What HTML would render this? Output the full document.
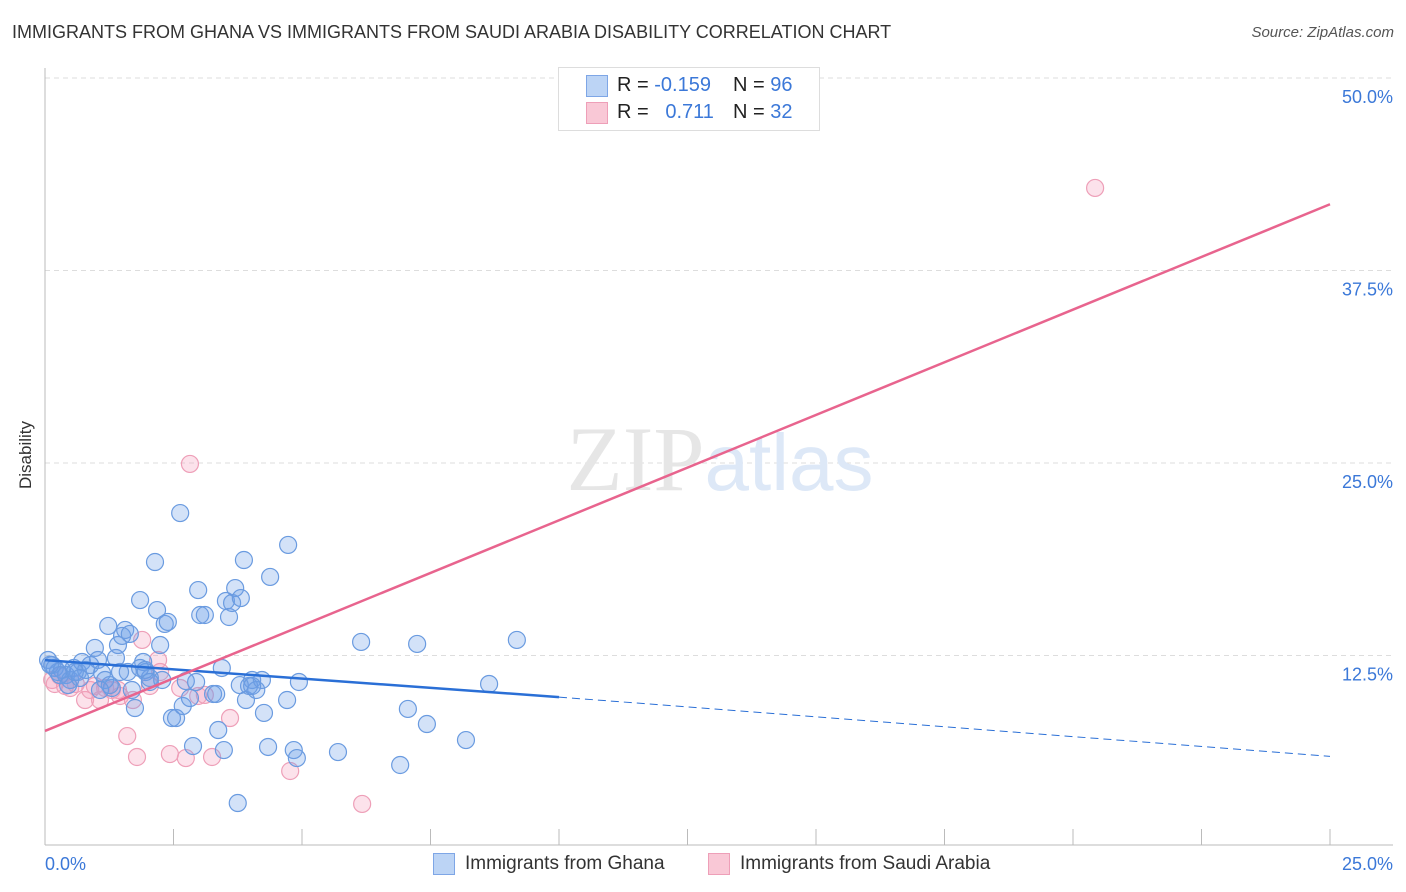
<!DOCTYPE html>
<html><head><meta charset="utf-8"><style>
body{margin:0;background:#fff;font-family:"Liberation Sans",sans-serif;}
#wrap{position:relative;width:1406px;height:892px;overflow:hidden;}
.t{position:absolute;white-space:nowrap;}
</style></head><body>
<div id="wrap">
<div class="t" style="left:12px;top:22px;font-size:18px;color:#333;">IMMIGRANTS FROM GHANA VS IMMIGRANTS FROM SAUDI ARABIA DISABILITY CORRELATION CHART</div>
<div class="t" style="right:12px;top:24px;font-size:15px;color:#555;font-style:italic;">Source: ZipAtlas.com</div>
<div class="t" style="left:-8px;top:445px;font-size:17px;color:#333;transform:rotate(-90deg);">Disability</div>
<svg id="svg" width="1406" height="892" style="position:absolute;left:0;top:0;"></svg>
<div style="position:absolute;left:558px;top:67px;width:260px;height:62px;border:1px solid #ddd;background:#fff;">
<div style="position:absolute;left:27px;top:7px;width:20px;height:20px;background:#bcd4f5;border:1px solid #7ea6e6;"></div>
<div style="position:absolute;left:27px;top:34px;width:20px;height:20px;background:#f9c8d6;border:1px solid #ee9fb8;"></div>
<div class="t" style="left:58px;top:6px;font-size:20px;color:#222;">R = <span style="color:#3b78d8">-0.159</span></div>
<div class="t" style="left:174px;top:6px;font-size:20px;color:#222;">N = <span style="color:#3b78d8">96</span></div>
<div class="t" style="left:58px;top:33px;font-size:20px;color:#222;">R = <span style="color:#3b78d8">&nbsp;&nbsp;0.711</span></div>
<div class="t" style="left:174px;top:33px;font-size:20px;color:#222;">N = <span style="color:#3b78d8">32</span></div>
</div>
<div>
<div style="position:absolute;left:433px;top:853px;width:20px;height:20px;background:#bcd4f5;border:1px solid #7ea6e6;"></div>
<div class="t" style="left:465px;top:853px;font-size:19px;color:#333;">Immigrants from Ghana</div>
<div style="position:absolute;left:708px;top:853px;width:20px;height:20px;background:#f9c8d6;border:1px solid #ee9fb8;"></div>
<div class="t" style="left:740px;top:853px;font-size:19px;color:#333;">Immigrants from Saudi Arabia</div>
</div>
</div>
<script>
const yTicks=[12.5,25,37.5,50];
const yTickLabels=["12.5%","25.0%","37.5%","50.0%"];
const xTickLabels=["0.0%","25.0%"];
const ghanaX=[0.06,0.14,0.19,0.25,0.33,0.41,0.49,0.56,0.64,0.72,0.80,0.88,0.97,1.03,1.11,1.17,1.23,1.30,1.38,1.42,1.50,1.56,1.61,1.65,1.69,1.75,1.85,1.91,1.96,2.04,2.14,2.18,2.24,2.28,2.33,2.47,2.55,2.63,2.68,2.74,2.82,2.88,2.94,2.98,3.02,3.11,3.27,3.33,3.37,3.44,3.48,3.52,3.58,3.64,3.70,3.75,3.81,3.87,3.91,3.97,4.03,4.11,4.22,4.26,4.34,4.38,4.71,4.73,4.84,4.90,4.94,5.70,6.15,6.91,7.06,7.24,7.43,8.19,8.64,9.18,1.85,1.95,2.04,2.39,3.79,4.03,1.46,0.29,0.45,0.58,0.68,1.26,1.07,0.10];
const ghanaY=[12.21,11.88,11.69,11.43,11.56,11.23,10.91,11.69,11.43,12.08,11.56,11.88,12.99,12.21,11.36,10.91,14.42,10.39,12.34,13.18,13.77,14.16,11.43,13.90,10.26,9.09,16.10,12.08,11.43,11.04,18.57,15.45,13.18,10.91,14.55,8.44,8.44,21.75,9.22,10.84,9.74,6.62,10.78,16.75,15.13,15.13,10.0,10.0,7.66,11.69,6.36,16.04,15.0,15.91,16.88,2.92,16.23,18.70,9.61,10.52,10.91,10.26,10.91,8.77,6.56,17.60,9.61,19.68,6.36,5.84,10.78,6.23,13.38,5.39,9.03,13.25,8.05,7.01,10.65,13.51,11.69,11.56,10.78,14.68,10.58,10.52,11.43,11.23,10.58,11.43,11.04,10.58,10.26,11.9];
const saudiX=[0.14,0.19,0.29,0.39,0.49,0.60,0.78,0.88,1.07,1.30,1.42,1.60,1.71,1.79,1.89,2.04,2.20,2.24,2.43,2.63,2.74,2.82,2.98,3.11,3.25,3.60,4.77,6.17,20.43,1.46,1.17,0.97];
const saudiY=[10.91,10.65,11.17,10.52,10.39,10.65,9.61,10.26,9.61,10.26,10.26,7.27,9.61,5.91,13.51,10.52,12.21,11.43,6.10,10.39,5.84,24.94,9.87,9.94,5.91,8.44,5.0,2.86,42.86,9.87,10.39,10.52];
const ghanaTrend=[[0,12.2],[10,9.8],[25,5.95]];
const saudiTrend=[[0,7.6],[25,41.8]];
const X0=45,X1=1330,Y0=848,PXY=15.4;
const sx=v=>X0+(v/25)*(X1-X0);
const sy=v=>Y0-v*PXY;
const svg=document.getElementById('svg');
const NS='http://www.w3.org/2000/svg';
function mk(tag,attrs){const e=document.createElementNS(NS,tag);for(const k in attrs)e.setAttribute(k,attrs[k]);svg.appendChild(e);return e;}
yTicks.forEach((t,i)=>{
 const g=mk('line',{x1:45,x2:1393,y1:sy(t),y2:sy(t),stroke:'#ddd','stroke-dasharray':'5,4'});
 
 
 const tx=mk('text',{x:1393,y:sy(t)+25,'text-anchor':'end','font-size':18,fill:'#3b78d8','font-family':'Liberation Sans'});
 tx.textContent=yTickLabels[i];
 
 
});
const ax=mk('line',{x1:45,x2:1393,y1:845,y2:845,stroke:'#bbb'});


const ay=mk('line',{x1:45,x2:45,y1:68,y2:845,stroke:'#bbb'});


for(let i=1;i<=10;i++){
 const tk=mk('line',{x1:sx(i*2.5),x2:sx(i*2.5),y1:829,y2:845,stroke:'#bbb'});
 
 
}
[[0,'start',45],[1,'end',1393]].forEach(([i,a,x])=>{
 const t=mk('text',{x:x,y:870,'text-anchor':a,'font-size':18,fill:'#3b78d8','font-family':'Liberation Sans'});
 t.textContent=xTickLabels[i];
 
 
});
const wm=mk('text',{x:720,y:490,'text-anchor':'middle','font-size':92,fill:'#e6e6e6','font-family':'Liberation Serif'});
wm.innerHTML='ZIP<tspan fill="#dde8f7" font-family="Liberation Sans" font-size="80">atlas</tspan>';


saudiX.forEach((x,i)=>{
 const c=mk('circle',{cx:sx(x),cy:sy(saudiY[i]),r:8.5,fill:'rgba(244,160,188,0.3)',stroke:'#ee9fb8','stroke-width':1.2});
 
 
});
ghanaX.forEach((x,i)=>{
 const c=mk('circle',{cx:sx(x),cy:sy(ghanaY[i]),r:8.5,fill:'rgba(110,160,232,0.3)',stroke:'#6a9be0','stroke-width':1.2});
 
 
});
const gl=mk('line',{x1:sx(ghanaTrend[0][0]),y1:sy(ghanaTrend[0][1]),x2:sx(ghanaTrend[1][0]),y2:sy(ghanaTrend[1][1]),stroke:'#2a6fd6','stroke-width':2.5});


const gd=mk('line',{x1:sx(ghanaTrend[1][0]),y1:sy(ghanaTrend[1][1]),x2:sx(ghanaTrend[2][0]),y2:sy(ghanaTrend[2][1]),stroke:'#2a6fd6','stroke-width':1,'stroke-dasharray':'8,5'});


const sl=mk('line',{x1:sx(saudiTrend[0][0]),y1:sy(saudiTrend[0][1]),x2:sx(saudiTrend[1][0]),y2:sy(saudiTrend[1][1]),stroke:'#e8648e','stroke-width':2.5});


</script>
</body></html>
